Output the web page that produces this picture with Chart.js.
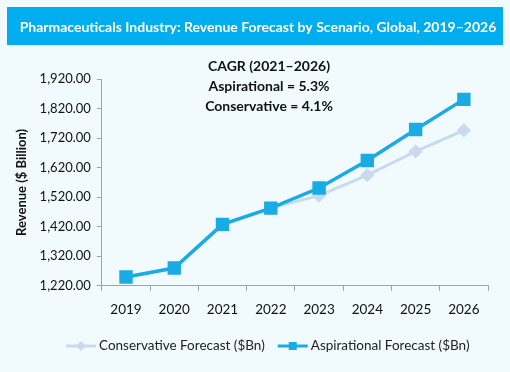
<!DOCTYPE html>
<html>
<head>
<meta charset="utf-8">
<script src="https://cdn.jsdelivr.net/npm/chart.js@4.4.1/dist/chart.umd.min.js"></script>
<style>
  body { margin: 0; background: #f1fbfe; }
  #wrap { width: 510px; height: 372px; position: relative; }
</style>
</head>
<body>
<div id="wrap"><canvas id="chart" width="510" height="372"></canvas></div>
<script>
const years = ['2019', '2020', '2021', '2022', '2023', '2024', '2025', '2026'];
const conservative = [1250, 1280, 1428, 1483, 1525, 1595, 1675, 1746];
const aspirational = [1250, 1280, 1428, 1483, 1551, 1644, 1749, 1851];
const titleText = 'Pharmaceuticals Industry: Revenue Forecast by Scenario, Global, 2019\u20132026';
const cagrLines = ['CAGR (2021\u20132026)', 'Aspirational = 5.3%', 'Conservative = 4.1%'];

const FONT = 'Lato, "Open Sans", sans-serif';
const blue = '#1aabe4';
const pale = '#c8daf0';

const decorations = {
    id: 'decorations',
    beforeDraw(chart) {
        const ctx = chart.ctx;
        ctx.save();
        ctx.fillStyle = '#00aeef';
        ctx.fillRect(7, 7, 496, 38);
        ctx.fillStyle = '#ffffff';
        ctx.font = 'bold 14px ' + FONT;
        ctx.textAlign = 'center';
        ctx.textBaseline = 'middle';
        ctx.fillText(titleText, 258, 27);
        ctx.restore();
    },
    afterDraw(chart) {
        const ctx = chart.ctx;
        ctx.save();
        ctx.fillStyle = '#111111';
        ctx.font = 'bold 14px ' + FONT;
        ctx.textAlign = 'center';
        ctx.textBaseline = 'middle';
        cagrLines.forEach((t, i) => ctx.fillText(t, 269, 66 + i * 20));

        // legend: line swatch with marker, then label
        ctx.font = '13.5px ' + FONT;
        ctx.textAlign = 'left';
        const y = 346;
        let x = 66;
        chart.data.datasets.forEach((ds, i) => {
            ctx.strokeStyle = ds.borderColor;
            ctx.fillStyle = ds.borderColor;
            ctx.lineWidth = 3;
            ctx.beginPath(); ctx.moveTo(x, y); ctx.lineTo(x + 30, y); ctx.stroke();
            if (ds.pointStyle === 'rect') {
                ctx.fillRect(x + 11, y - 4, 8, 8);
            } else {
                ctx.beginPath();
                ctx.moveTo(x + 15, y - 5); ctx.lineTo(x + 20, y);
                ctx.lineTo(x + 15, y + 5); ctx.lineTo(x + 10, y);
                ctx.closePath(); ctx.fill();
            }
            ctx.fillStyle = '#222222';
            ctx.fillText(ds.label, x + 33, y);
            x += 33 + ctx.measureText(ds.label).width + 13;
        });
        ctx.restore();
    }
};

new Chart(document.getElementById('chart'), {
    type: 'line',
    data: {
        labels: years,
        datasets: [{
            label: 'Conservative Forecast ($Bn)',
            data: conservative,
            borderColor: pale,
            backgroundColor: pale,
            borderWidth: 3,
            pointStyle: 'rectRot',
            pointRadius: 5,
            pointHoverRadius: 5,
            tension: 0,
            order: 1
        }, {
            label: 'Aspirational Forecast ($Bn)',
            data: aspirational,
            borderColor: blue,
            backgroundColor: blue,
            borderWidth: 3.5,
            pointStyle: 'rect',
            pointRadius: 7,
            pointHoverRadius: 7,
            tension: 0,
            order: 0
        }]
    },
    options: {
        responsive: false,
        animation: false,
        layout: { padding: { top: 79, left: 10, right: 22, bottom: 43 } },
        plugins: {
            title: { display: false },
            tooltip: { enabled: false },
            legend: { display: false }
        },
        scales: {
            x: {
                offset: true,
                grid: {
                    display: true,
                    drawOnChartArea: false,
                    drawTicks: true,
                    tickLength: 5,
                    color: '#9aa4ab',
                    offset: true
                },
                border: { color: '#9aa4ab' },
                ticks: { color: '#111111', font: { family: FONT, size: 13.5 }, padding: 11 }
            },
            y: {
                min: 1220,
                max: 1920,
                grid: {
                    display: true,
                    drawOnChartArea: false,
                    tickLength: 5,
                    color: '#9aa4ab'
                },
                border: { color: '#9aa4ab' },
                ticks: {
                    stepSize: 100,
                    color: '#111111',
                    font: { family: FONT, size: 13 },
                    padding: 6,
                    callback: v => v.toLocaleString('en-US', { minimumFractionDigits: 2, maximumFractionDigits: 2 })
                },
                title: {
                    display: true,
                    text: 'Revenue ($ Billion)',
                    color: '#111111',
                    font: { family: FONT, size: 13, weight: 'bold' },
                    padding: { bottom: 4 }
                }
            }
        }
    },
    plugins: [decorations]
});
</script>
</body>
</html>
